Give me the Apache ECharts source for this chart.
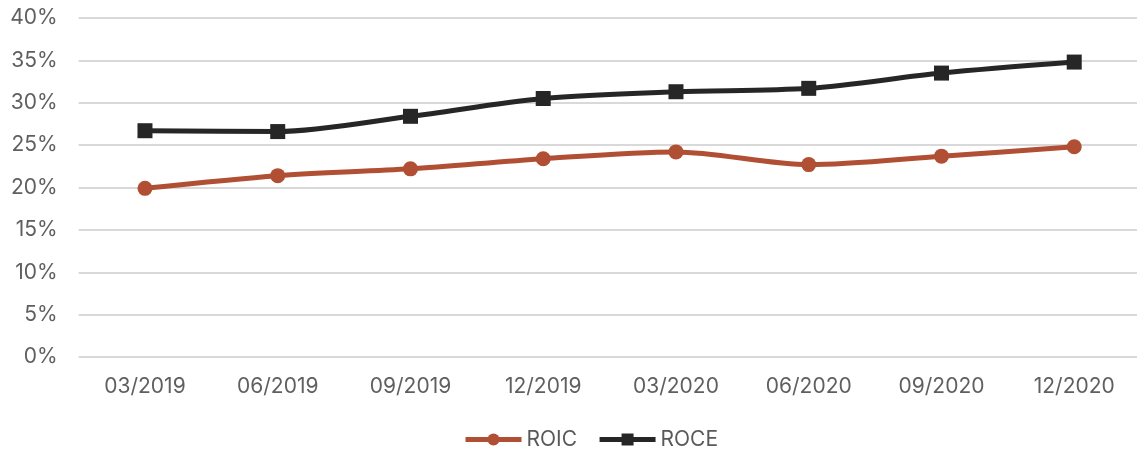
<!DOCTYPE html>
<html><head><meta charset="utf-8">
<script src="https://cdn.jsdelivr.net/npm/echarts@6/dist/echarts.min.js"></script>
<style>html,body{margin:0;padding:0;background:#fff;overflow:hidden}#c{width:1141px;height:449px}</style>
</head><body><div id="c"></div>
<script>
const categories = ['03/2019','06/2019','09/2019','12/2019','03/2020','06/2020','09/2020','12/2020'];
const roic = [19.9, 21.4, 22.2, 23.4, 24.2, 22.7, 23.7, 24.8];
const roce = [26.7, 26.6, 28.4, 30.5, 31.3, 31.7, 33.5, 34.8];
const seriesNames = ['ROIC', 'ROCE'];
const chart = echarts.init(document.getElementById('c'));
const font = 'Inter, "Liberation Sans", sans-serif';
chart.setOption({
  animation: false,
  grid: { left: 78.6, width: 1062, top: 18, bottom: 92 },
  legend: {
    left: 458, top: 424, itemWidth: 56, itemHeight: 15, itemGap: 20,
    lineStyle: { width: 5 },
    textStyle: { fontFamily: font, fontSize: 21, color: '#595959' },
    data: seriesNames
  },
  xAxis: {
    type: 'category', data: categories, boundaryGap: true,
    axisLine: { show: false }, axisTick: { show: false },
    axisLabel: { fontFamily: font, fontSize: 21, color: '#5f5f5f', margin: 19 }
  },
  yAxis: {
    type: 'value', min: 0, max: 40, interval: 5,
    axisLabel: { formatter: '{value}%', fontFamily: font, fontSize: 21, color: '#5f5f5f', margin: 21 },
    splitLine: { lineStyle: { color: '#d9d9d9', width: 2 } },
    axisLine: { show: false }, axisTick: { show: false }
  },
  series: [
    { name: 'ROIC', type: 'line', data: roic, smooth: 0.3, symbol: 'circle', symbolSize: 15,
      itemStyle: { color: '#b04f33' }, lineStyle: { width: 5, color: '#b04f33' } },
    { name: 'ROCE', type: 'line', data: roce, smooth: 0.3, symbol: 'rect', symbolSize: 15,
      itemStyle: { color: '#262626' }, lineStyle: { width: 5, color: '#262626' } }
  ]
});
</script></body></html>
